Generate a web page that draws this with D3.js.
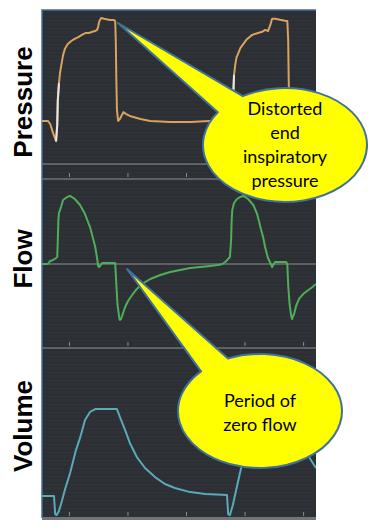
<!DOCTYPE html>
<html><head><meta charset="utf-8">
<script src="https://cdn.jsdelivr.net/npm/d3@7"></script>
<style>html,body{margin:0;padding:0;background:#fff;} svg{display:block}</style>
</head><body>
<svg id="chart" width="382" height="532"></svg>
<script>
// ---------------- data ----------------
const timeTicks = [1, 2, 3, 4, 5];              // s
const panelLabels = ["Pressure", "Flow", "Volume"];

// Pressure (cmH2O) [time s, value]
const pressure = [
  [0.54,11.0],[0.64,11.0],[0.68,10.2],[0.73,7.8],[0.78,5.7],[0.80,9.9],[0.81,16.5],[0.83,20.9],
  [0.85,23.8],[0.87,25.6],[0.90,28.2],[0.93,29.8],[0.98,31.1],[1.04,31.9],[1.09,32.4],[1.16,32.9],
  [1.22,33.5],[1.29,34.0],[1.34,34.0],[1.40,34.3],[1.45,34.5],[1.48,34.8],[1.50,35.6],[1.51,36.6],
  [1.53,37.4],[1.55,37.9],[1.60,37.7],[1.70,37.4],[1.77,37.4],[1.79,37.1],[1.80,32.2],[1.81,21.7],
  [1.82,13.9],[1.84,11.0],[1.87,11.5],[1.93,13.3],[1.98,12.8],[2.04,12.3],[2.22,11.5],[2.39,11.0],
  [2.73,10.7],[3.07,10.7],[3.41,11.0],[3.62,11.0],[3.69,10.7],[3.74,8.6],[3.79,5.7],[3.80,14.0],
  [3.81,19.1],[3.82,23.0],[3.84,25.6],[3.86,27.5],[3.93,30.1],[4.03,32.2],[4.13,33.5],[4.23,34.0],
  [4.30,34.3],[4.35,34.8],[4.40,34.5],[4.44,36.1],[4.47,37.7],[4.52,37.7],[4.71,37.1],[4.73,37.1],
  [4.745,32.2],[4.754,21.7],[4.762,13.9],[4.78,11.0],[4.81,11.5],[4.865,13.3],[4.92,12.8],[4.985,12.3],
  [5.12,11.5],[5.22,11.2]
];
// patient-triggered segments drawn in white
const pressureTrigger1 = [[0.78,5.7],[0.80,9.9],[0.81,16.5],[0.83,20.9]];
const pressureTrigger2 = [[3.79,5.7],[3.80,14.0],[3.81,19.1],[3.82,23.0]];

// Flow (L/min)
const flow = [
  [0.54,0],[0.64,0],[0.68,2.9],[0.73,3.8],[0.78,5.7],[0.80,6.7],[0.81,22.9],[0.82,41.9],[0.83,48.6],
  [0.865,54.3],[0.90,61.0],[0.97,63.8],[1.02,64.8],[1.10,61.9],[1.19,56.2],[1.275,47.6],[1.36,35.2],
  [1.41,24.8],[1.45,16.2],[1.48,5.7],[1.50,-1.9],[1.515,-2.9],[1.57,1.0],[1.63,1.0],[1.79,1.0],
  [1.81,-20],[1.83,-39],[1.86,-51.4],[1.87,-53.3],[1.89,-52.4],[1.925,-46.7],[1.96,-41],[2.01,-35.2],
  [2.08,-29.5],[2.16,-23.8],[2.25,-19.0],[2.39,-14.3],[2.56,-10.5],[2.73,-7.6],[2.90,-5.7],[3.07,-3.8],
  [3.24,-2.9],[3.41,-1.9],[3.55,-1.0],[3.62,0],[3.67,1.9],[3.72,4.8],[3.75,6.7],[3.77,22.9],[3.78,41.9],
  [3.79,51.4],[3.82,58.1],[3.87,61.9],[3.925,63.8],[3.98,64.8],[4.06,61.9],[4.15,56.2],[4.215,47.6],
  [4.27,35.2],[4.32,24.8],[4.35,16.2],[4.40,5.7],[4.44,1.0],[4.47,-2.9],[4.52,1.9],[4.71,1.9],[4.73,0],
  [4.745,-20],[4.77,-39],[4.80,-50.5],[4.81,-52.4],[4.85,-46.7],[4.88,-40],[4.93,-33.3],[5.00,-28.6],
  [5.09,-24.8],[5.16,-21.9],[5.22,-19.0]
];

// Volume (mL)
const volume = [
  [0.54,80],[0.745,80],[0.765,3],[0.79,0],[0.83,17],[0.88,59],[0.93,105],[1.02,176],[1.12,272],
  [1.19,323],[1.275,398],[1.36,432],[1.45,444],[1.70,444],[1.82,444],[1.87,411],[1.96,356],[2.04,302],
  [2.16,243],[2.30,197],[2.47,159],[2.64,130],[2.81,113],[3.07,96],[3.33,88],[3.70,84],[3.72,3],
  [3.75,0],[3.80,42],[3.856,105],[3.925,180],[4.01,264],[4.10,344],[4.18,398],[4.23,423],[4.28,440],
  [4.35,444],[4.69,444],[4.78,411],[4.865,356],[4.95,302],[5.10,243],[5.22,197]
];

const callout1Lines = ["Distorted", "end", "inspiratory", "pressure"];
const callout2Lines = ["Period of", "zero flow"];

// ---------------- layout ----------------
const svg = d3.select("#chart");
const X0 = 42, X1 = 316;
const panels = [
  {top: 10, bottom: 179},
  {top: 179, bottom: 348},
  {top: 348, bottom: 518}
];

const x = d3.scaleLinear().domain([0.54, 5.22]).range([X0, X1]);
const yP = d3.scaleLinear().domain([0, 40]).range([163, 10]);
const yF = d3.scaleLinear().domain([-80, 80]).range([348, 180]);
const yV = d3.scaleLinear().domain([0, 700]).range([515, 348]);

const defs = svg.append("defs");
const pat = defs.append("pattern").attr("id", "scan").attr("patternUnits", "userSpaceOnUse")
  .attr("width", 4).attr("height", 4);
pat.append("rect").attr("width", 4).attr("height", 4).attr("fill", "#2e3135");
pat.append("rect").attr("y", 2).attr("width", 4).attr("height", 1).attr("fill", "#2a2d31");
defs.append("clipPath").attr("id", "clipAll").append("rect")
  .attr("x", X0).attr("y", 10).attr("width", X1 - X0).attr("height", 508);

// background panel
svg.append("rect").attr("x", X0).attr("y", 10).attr("width", X1 - X0).attr("height", 508)
  .attr("fill", "url(#scan)");

// horizontal reference lines
const hLines = [
  {y: 164, c: "#5e6165", w: 2},
  {y: 179, c: "#5e6165", w: 2},
  {y: yF(0), c: "#8e8f91", w: 1.2},
  {y: 348, c: "#5e6165", w: 2},
  {y: 518.5, c: "#727477", w: 3}
];
svg.selectAll("line.h").data(hLines).join("line")
  .attr("x1", X0).attr("x2", X1).attr("y1", d => d.y).attr("y2", d => d.y)
  .attr("stroke", d => d.c).attr("stroke-width", d => d.w);

// time tick marks
[173, 342, 512].forEach(yy => {
  const g = svg.append("g").attr("transform", `translate(0,${yy})`)
    .call(d3.axisBottom(x).tickValues(timeTicks).tickSize(4).tickFormat(""));
  g.select(".domain").remove();
  g.selectAll(".tick line").attr("stroke", "#8a8c8f").attr("stroke-width", 1);
});

// frame
svg.append("path").attr("d", `M${X0},518 V10 H${X1}`).attr("fill", "none")
  .attr("stroke", "#3f6ea3").attr("stroke-width", 1.5);

// waveforms
const plot = svg.append("g").attr("clip-path", "url(#clipAll)");
const lineP = d3.line().x(d => x(d[0])).y(d => yP(d[1]));
const lineF = d3.line().x(d => x(d[0])).y(d => yF(d[1]));
const lineV = d3.line().x(d => x(d[0])).y(d => yV(d[1]));

plot.append("path").attr("d", lineP(pressure)).attr("fill", "none")
  .attr("stroke", "#d9a25e").attr("stroke-width", 2).attr("stroke-linejoin", "round");
[pressureTrigger1, pressureTrigger2].forEach(seg => {
  plot.append("path").attr("d", lineP(seg)).attr("fill", "none")
    .attr("stroke", "#e6e6e6").attr("stroke-width", 2).attr("stroke-linejoin", "round");
});
plot.append("path").attr("d", lineF(flow)).attr("fill", "none")
  .attr("stroke", "#4fae5a").attr("stroke-width", 2).attr("stroke-linejoin", "round");
plot.append("path").attr("d", lineV(volume)).attr("fill", "none")
  .attr("stroke", "#5aaab8").attr("stroke-width", 2).attr("stroke-linejoin", "round");

// panel labels
const labelCenters = [102, 259, 426];
svg.selectAll("text.plabel").data(panelLabels).join("text")
  .attr("class", "plabel")
  .attr("transform", (d, i) => `translate(32,${labelCenters[i]}) rotate(-90)`)
  .attr("text-anchor", "middle")
  .attr("font-family", "'Liberation Sans', Arial, sans-serif")
  .attr("font-weight", "bold").attr("font-size", 26).attr("fill", "#000")
  .text(d => d);

// callouts
function calloutPath(cx, cy, rx, ry, tip, a0, a1) {
  const r = Math.PI / 180;
  const p0 = [cx + rx * Math.cos(a0 * r), cy + ry * Math.sin(a0 * r)];
  const p1 = [cx + rx * Math.cos(a1 * r), cy + ry * Math.sin(a1 * r)];
  return `M${p1[0]},${p1[1]} A${rx},${ry} 0 1 1 ${p0[0]},${p0[1]} L${tip[0]},${tip[1]} Z`;
}
const callouts = [
  {cx: 285, cy: 145, rx: 82, ry: 57, tip: [118, 23], a0: 215, a1: 239, lines: callout1Lines, y0: 115},
  {cx: 260, cy: 411, rx: 82, ry: 57, tip: [127, 269], a0: 224, a1: 247, lines: callout2Lines, y0: 407}
];
callouts.forEach(c => {
  svg.append("path").attr("d", calloutPath(c.cx, c.cy, c.rx, c.ry, c.tip, c.a0, c.a1))
    .attr("fill", "#ffff00").attr("stroke", "#41719c").attr("stroke-width", 2)
    .attr("stroke-linejoin", "round");
  svg.append("g").selectAll("text").data(c.lines).join("text")
    .attr("x", c.cx).attr("y", (d, i) => c.y0 + i * 24)
    .attr("text-anchor", "middle")
    .attr("font-family", "Lato, 'Open Sans', sans-serif")
    .attr("font-size", 18).attr("fill", "#000")
    .text(d => d);
});
</script>
</body></html>
